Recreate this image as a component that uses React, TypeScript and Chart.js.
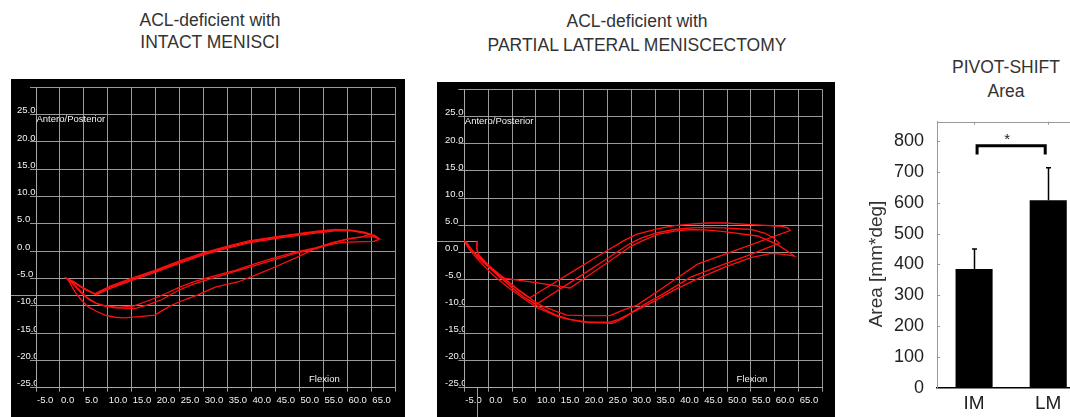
import React, { useEffect, useRef } from "react";
import { Chart, registerables } from "chart.js";

Chart.register(...registerables);

type Pt = [number, number];

// ---- Panel 1: ACL-deficient with INTACT MENISCI (Flexion vs Antero/Posterior) ----
const imCycle1: Pt[] = [
  [1.2, -4.9], [2.5, -5.8], [3.8, -6.9], [5.5, -8.4], [7.5, -9.5], [9.5, -10.0], [12.2, -10.3],
  [15.5, -10.0], [19, -8.9], [22, -7.8], [25, -6.6], [28, -5.6], [32.4, -4.5], [36.6, -3.5],
  [40.8, -2.3], [44.9, -1.2], [49.1, -0.2], [53.3, 0.6], [57.4, 1.6], [60.2, 2.3], [63, 2.6],
  [65.5, 2.6], [66.6, 2.3], [65.7, 2.9], [63, 3.5], [60.2, 3.9], [57.4, 3.9], [53.3, 3.5],
  [46.3, 2.7], [39.4, 1.7], [34.4, 0.6], [29.9, -0.5], [25.3, -1.9], [19.8, -3.7], [14.9, -5.2],
  [10.5, -6.6], [7.4, -7.9], [4.5, -6.6], [2.0, -5.3],
];
const imCycle2: Pt[] = [
  [2.0, -5.3], [3.0, -6.3], [4.4, -7.6], [6.2, -9.0], [8.5, -9.9], [11.5, -10.4], [15.6, -10.5],
  [18.5, -9.8], [21.2, -8.9], [24.7, -7.2], [28, -6.0], [32.4, -4.8], [36.6, -3.7], [40.8, -2.6],
  [44.9, -1.5], [49.1, -0.4], [53.3, 0.4], [56, 1.1], [58.8, 1.6], [62, 1.7], [65.5, 1.8],
  [66.5, 2.1], [66, 2.6], [64, 3.2], [61, 3.7], [57.4, 3.7], [53.3, 3.3], [46.3, 2.5], [39.4, 1.5],
  [34.4, 0.4], [29.9, -0.7], [25.3, -2.1], [19.8, -3.9], [14.9, -5.4], [10.5, -6.8], [7.6, -8.0],
  [5, -6.9], [3, -5.6], [1.0, -4.8],
];
const imCycle3: Pt[] = [
  [1.5, -5.0], [2.2, -6.0], [3.1, -7.4], [4.4, -8.9], [5.9, -10.2], [7.6, -11.0], [9.4, -11.7],
  [11.5, -12.1], [13.5, -12.2], [16.5, -12.0], [19.8, -11.7], [21.5, -10.8], [23.3, -9.9],
  [26, -8.9], [28.8, -8.0], [32.4, -6.6], [37.3, -5.6], [40.8, -4.4], [44.9, -2.9], [49.8, -1.0],
  [53.3, 0.5], [57, 1.6], [60.2, 2.2], [63, 2.6], [64.8, 3.1], [63.5, 3.5], [61, 3.8], [57.4, 4.0],
  [53.3, 3.6], [46.3, 2.8], [39.4, 1.9], [34.4, 0.8], [29.9, -0.3], [25.3, -1.7], [19.8, -3.5],
  [14.9, -5.0], [10.5, -6.4], [7.2, -7.8], [4.2, -6.4], [1.6, -5.1],
];

// ---- Panel 2: ACL-deficient with PARTIAL LATERAL MENISCECTOMY ----
const lmCycle1: Pt[] = [
  [-5.2, 2.3], [-4.2, 1.2], [-2.8, -0.2], [-1, -1.6], [1, -3.1], [3.5, -4.9], [6, -6.7], [8.7, -8.4],
  [13, -6.1], [18, -3.4], [23, -0.7], [28.5, 2.2], [31, 3.3], [35.4, 4.3], [39, 4.9], [42.4, 5.2],
  [46, 5.4], [49.4, 5.4], [55, 5.1], [61.3, 4.8], [62.7, 4.5], [63.2, 4.0], [53.5, 0.9],
  [43.8, -2.2], [36.5, -6.6], [31.1, -9.8], [28.5, -10.6], [25.5, -11.7], [20.6, -11.7],
  [16.5, -11.6], [14.5, -11.0], [11, -9.8], [7.5, -7.8], [4, -5.4], [1, -3.3], [-1.5, -1.3],
  [-3.5, 0.5], [-4.6, 1.9],
];
const lmCycle2: Pt[] = [
  [-4.6, 1.9], [-3.6, 0.6], [-2, -1.1], [0, -2.7], [2.5, -4.6], [5, -6.6], [7.5, -8.3], [10.1, -9.6],
  [15, -6.8], [20, -4.0], [25, -1.1], [29.7, 1.6], [32, 2.6], [35.4, 3.6], [39, 4.2], [42.4, 4.5],
  [46, 4.6], [49.4, 4.5], [55, 4.2], [58, 3.5], [59.8, 2.6], [61, 1.6], [59.2, 1.1], [55, -0.4],
  [49.4, -2.2], [42.4, -4.6], [36.8, -7.6], [32, -10.0], [29.5, -11.4], [27, -12.5], [25.5, -12.9],
  [21, -12.9], [17, -12.4], [14, -11.5], [10.5, -10.0], [7, -8.0], [4, -5.7], [1, -3.4],
  [-1.2, -1.2], [-2.1, -0.4], [-2.4, 0.8], [-2.3, 2.1],
];
const lmCycle3: Pt[] = [
  [-2.3, 2.1], [-2.4, 0.8], [-2.0, -0.5], [0, -2.6], [2.5, -4.7], [10, -5.6], [17.1, -6.6],
  [21, -4.3], [25, -1.9], [29.7, 1.0], [32, 2.0], [35.4, 3.3], [39, 3.9], [42.4, 4.2], [46, 4.1],
  [49.4, 3.8], [56.4, 3.0], [60.6, 1.4], [64.1, -0.7], [62, -0.4], [59.2, -0.2], [55, -1.0],
  [49.4, -2.8], [43.8, -4.9], [38.9, -7.0], [34, -9.4], [30.6, -10.9], [28, -12.3], [26, -13.1],
  [22, -13.0], [19.9, -12.9], [15, -12.0], [10.1, -10.2], [4.6, -6.8], [1, -4.2], [-2, -1.5],
  [-4, 0.6], [-5.2, 2.3],
];

// cursor lines seen on the tracker screens (x = null: horizontal line across the grid)
const imCursor = { x: null as number | null, y: -8 };
const lmCursor = { x: -2.3 as number | null, y: 2.0 };

const loopXRange = [-5, 70];
const loopYRange = [-25, 30];
const loopStep = 5;

// ---- Panel 3: PIVOT-SHIFT Area ----
const barCategories = ["IM", "LM"];
const barMeans = [385, 608];
const barErrors = [65, 105];
const barYRange = [0, 862];
const barStep = 100;
const sigLevels = [784, 756, 812]; // bracket bar, bracket leg end, star

const FONT = "'Liberation Sans', Arial, Helvetica, sans-serif";
const GRID = "rgba(170,170,170,0.9)";
const TXT = "#f2f2f2";

type Geom = {
  left: number; top: number; width: number; height: number;
  labelLeft: number; areaLeft: number; areaRight: number; areaTop: number; areaBottom: number;
};

function LoopPanel({ cycles, geom, cursor }: { cycles: Pt[][]; geom: Geom; cursor: { x: number | null; y: number } }) {
  const ref = useRef<HTMLCanvasElement>(null);
  useEffect(() => {
    const canvas = ref.current!;
    const bg = {
      id: "bg",
      beforeDraw(c: any) {
        const ctx = c.ctx;
        ctx.save();
        ctx.fillStyle = "#000";
        ctx.fillRect(0, 0, c.width, c.height);
        ctx.restore();
      },
    };
    const cursorPlugin = {
      id: "cursor",
      beforeDatasetsDraw(c: any) {
        const { ctx, chartArea: a } = c;
        const xs = c.scales.x, ys = c.scales.y;
        const py = Math.round(ys.getPixelForValue(cursor.y)) + 0.5;
        ctx.save();
        ctx.strokeStyle = GRID;
        ctx.lineWidth = 1;
        ctx.beginPath();
        if (cursor.x === null) {
          ctx.moveTo(0, py);
          ctx.lineTo(a.right, py);
        } else {
          const px = Math.round(xs.getPixelForValue(cursor.x)) + 0.5;
          ctx.moveTo(0, py);
          ctx.lineTo(px, py);
          ctx.moveTo(px, a.bottom);
          ctx.lineTo(px, c.height);
        }
        ctx.stroke();
        ctx.restore();
      },
    };
    const labels = {
      id: "labels",
      afterDraw(c: any) {
        const { ctx } = c;
        const xs = c.scales.x, ys = c.scales.y;
        ctx.save();
        ctx.fillStyle = TXT;
        ctx.font = `9.5px ${FONT}`;
        ctx.textAlign = "left";
        ctx.textBaseline = "middle";
        ctx.fillText("Antero/Posterior", xs.getPixelForValue(loopXRange[0]) + 0.5, ys.getPixelForValue(25) + 4.5);
        ctx.fillText("Flexion", xs.getPixelForValue(52), ys.getPixelForValue(-23.5));
        ctx.restore();
      },
    };
    const chart = new Chart(canvas, {
      type: "scatter",
      data: {
        datasets: cycles.map((cy) => ({
          data: cy.map(([x, y]) => ({ x, y })),
          showLine: true,
          borderColor: "#ff1010",
          borderWidth: 1.3,
          pointRadius: 0,
          tension: 0,
          fill: false,
        })),
      },
      options: {
        responsive: false,
        animation: false,
        events: [],
        layout: { padding: { left: geom.labelLeft, top: geom.areaTop, right: geom.width - geom.areaRight, bottom: 0 } },
        plugins: { legend: { display: false }, tooltip: { enabled: false } },
        scales: {
          x: {
            type: "linear",
            min: loopXRange[0],
            max: loopXRange[1],
            grid: { color: GRID, lineWidth: 1, tickLength: 4, tickColor: GRID },
            border: { color: GRID },
            ticks: {
              stepSize: loopStep,
              autoSkip: false,
              maxRotation: 0,
              minRotation: 0,
              align: "start",
              labelOffset: 1,
              padding: 3,
              color: TXT,
              font: { family: FONT, size: 9.5 },
              callback: (v: any) => (Number(v) >= loopXRange[1] ? "" : Number(v).toFixed(1)),
            },
            afterFit: (s: any) => { s.height = geom.height - geom.areaBottom; },
          },
          y: {
            type: "linear",
            min: loopYRange[0],
            max: loopYRange[1],
            grid: { color: GRID, lineWidth: 1, tickLength: 6, tickColor: GRID },
            border: { color: GRID },
            ticks: {
              stepSize: loopStep,
              autoSkip: false,
              crossAlign: "far",
              labelOffset: -4,
              padding: 2,
              color: TXT,
              font: { family: FONT, size: 9.5 },
              callback: (v: any) => (Number(v) >= loopYRange[1] ? "" : Number(v).toFixed(1)),
            },
            afterFit: (s: any) => { s.width = geom.areaLeft - geom.labelLeft; },
          },
        },
      } as any,
      plugins: [bg, cursorPlugin, labels],
    });
    return () => chart.destroy();
  }, []);
  return (
    <canvas
      ref={ref}
      width={geom.width}
      height={geom.height}
      style={{ position: "absolute", left: geom.left, top: geom.top, width: geom.width, height: geom.height }}
    />
  );
}

function BarPanel() {
  const ref = useRef<HTMLCanvasElement>(null);
  useEffect(() => {
    const canvas = ref.current!;
    const decor = {
      id: "decor",
      afterDraw(c: any) {
        const { ctx, chartArea: a } = c;
        const xs = c.scales.x, ys = c.scales.y;
        ctx.save();
        // frame top + small tick marks
        ctx.strokeStyle = "#9a9a9a";
        ctx.lineWidth = 1;
        ctx.beginPath();
        ctx.moveTo(a.left, Math.round(a.top) + 0.5);
        ctx.lineTo(a.right, Math.round(a.top) + 0.5);
        barCategories.forEach((_, i) => {
          const px = Math.round(xs.getPixelForValue(i)) + 0.5;
          ctx.moveTo(px, a.top);
          ctx.lineTo(px, a.top + 3);
        });
        ys.ticks.forEach((t: any) => {
          if (t.value > 0 && t.value % barStep === 0) {
            const py = Math.round(ys.getPixelForValue(t.value)) + 0.5;
            ctx.moveTo(a.left, py);
            ctx.lineTo(a.left + 3, py);
          }
        });
        ctx.stroke();
        // error bars (upper only)
        ctx.strokeStyle = "#000";
        ctx.lineWidth = 1.5;
        ctx.beginPath();
        barMeans.forEach((m, i) => {
          const px = Math.round(xs.getPixelForValue(i)) + 0.5;
          const pt = ys.getPixelForValue(m + barErrors[i]);
          ctx.moveTo(px, ys.getPixelForValue(m));
          ctx.lineTo(px, pt);
          ctx.moveTo(px - 2.5, pt);
          ctx.lineTo(px + 2.5, pt);
        });
        ctx.stroke();
        // significance bracket
        const x1 = xs.getPixelForValue(0) + 3;
        const x2 = xs.getPixelForValue(1) - 3;
        const yb = ys.getPixelForValue(sigLevels[0]);
        const yl = ys.getPixelForValue(sigLevels[1]);
        ctx.lineWidth = 3;
        ctx.lineJoin = "miter";
        ctx.beginPath();
        ctx.moveTo(x1, yl);
        ctx.lineTo(x1, yb);
        ctx.lineTo(x2, yb);
        ctx.lineTo(x2, yl);
        ctx.stroke();
        ctx.fillStyle = "#222";
        ctx.font = `15px ${FONT}`;
        ctx.textAlign = "center";
        ctx.textBaseline = "middle";
        ctx.fillText("*", (x1 + x2) / 2 - 4, ys.getPixelForValue(sigLevels[2]) + 3);
        // y axis title
        ctx.translate(17, 164);
        ctx.rotate(-Math.PI / 2);
        ctx.font = `19px ${FONT}`;
        ctx.fillStyle = "#333";
        ctx.fillText("Area [mm*deg]", 0, 0);
        ctx.restore();
      },
    };
    const chart = new Chart(canvas, {
      type: "bar",
      data: {
        labels: barCategories,
        datasets: [
          {
            data: barMeans,
            backgroundColor: "#000",
            borderWidth: 0,
            barPercentage: 0.5,
            categoryPercentage: 1,
          },
        ],
      },
      options: {
        responsive: false,
        animation: false,
        events: [],
        layout: { padding: { left: 0, top: 21.7, right: 14.7, bottom: 0 } },
        plugins: { legend: { display: false }, tooltip: { enabled: false } },
        scales: {
          x: {
            grid: { display: false },
            border: { color: "#000", width: 1.5 },
            ticks: { color: "#222", font: { family: FONT, size: 19 }, padding: -4 },
            afterFit: (s: any) => { s.height = 29; },
          },
          y: {
            min: barYRange[0],
            max: barYRange[1],
            grid: { display: false },
            border: { color: "#9a9a9a", width: 1 },
            ticks: {
              stepSize: barStep,
              includeBounds: false,
              color: "#222",
              font: { family: FONT, size: 18 },
              padding: 5,
              callback: (v: any) => (Number(v) % barStep === 0 ? String(v) : ""),
            },
            afterFit: (s: any) => { s.width = 77; },
          },
        },
      } as any,
      plugins: [decor],
    });
    return () => chart.destroy();
  }, []);
  return (
    <canvas
      ref={ref}
      width={240}
      height={317}
      style={{ position: "absolute", left: 860, top: 100, width: 240, height: 317 }}
    />
  );
}

const titleStyle = (cx: number, top: number, lh: number): React.CSSProperties => ({
  position: "absolute",
  left: cx - 200,
  width: 400,
  top,
  textAlign: "center",
  font: `17.5px/${lh}px ${FONT}`,
  color: "#333",
  whiteSpace: "nowrap",
});

export default function App() {
  const g1: Geom = {
    left: 11, top: 79, width: 394, height: 338,
    labelLeft: 6, areaLeft: 25, areaRight: 384.3, areaTop: 8.3, areaBottom: 308.7,
  };
  const g2: Geom = {
    left: 437, top: 82, width: 398, height: 335,
    labelLeft: 8, areaLeft: 27.3, areaRight: 385.6, areaTop: 5.3, areaBottom: 305.7,
  };
  return (
    <div
      style={{
        position: "absolute",
        left: 0,
        top: 0,
        width: 1070,
        height: 417,
        overflow: "hidden",
        background: "#fff",
      }}
    >
      <div style={titleStyle(210, 9, 22)}>
        ACL-deficient with
        <br />
        INTACT MENISCI
      </div>
      <div style={titleStyle(637, 9, 24)}>
        ACL-deficient with
        <br />
        PARTIAL LATERAL MENISCECTOMY
      </div>
      <div style={titleStyle(1006, 55, 24)}>
        PIVOT-SHIFT
        <br />
        Area
      </div>
      <LoopPanel cycles={[imCycle1, imCycle2, imCycle3]} geom={g1} cursor={imCursor} />
      <LoopPanel cycles={[lmCycle1, lmCycle2, lmCycle3]} geom={g2} cursor={lmCursor} />
      <BarPanel />
    </div>
  );
}
